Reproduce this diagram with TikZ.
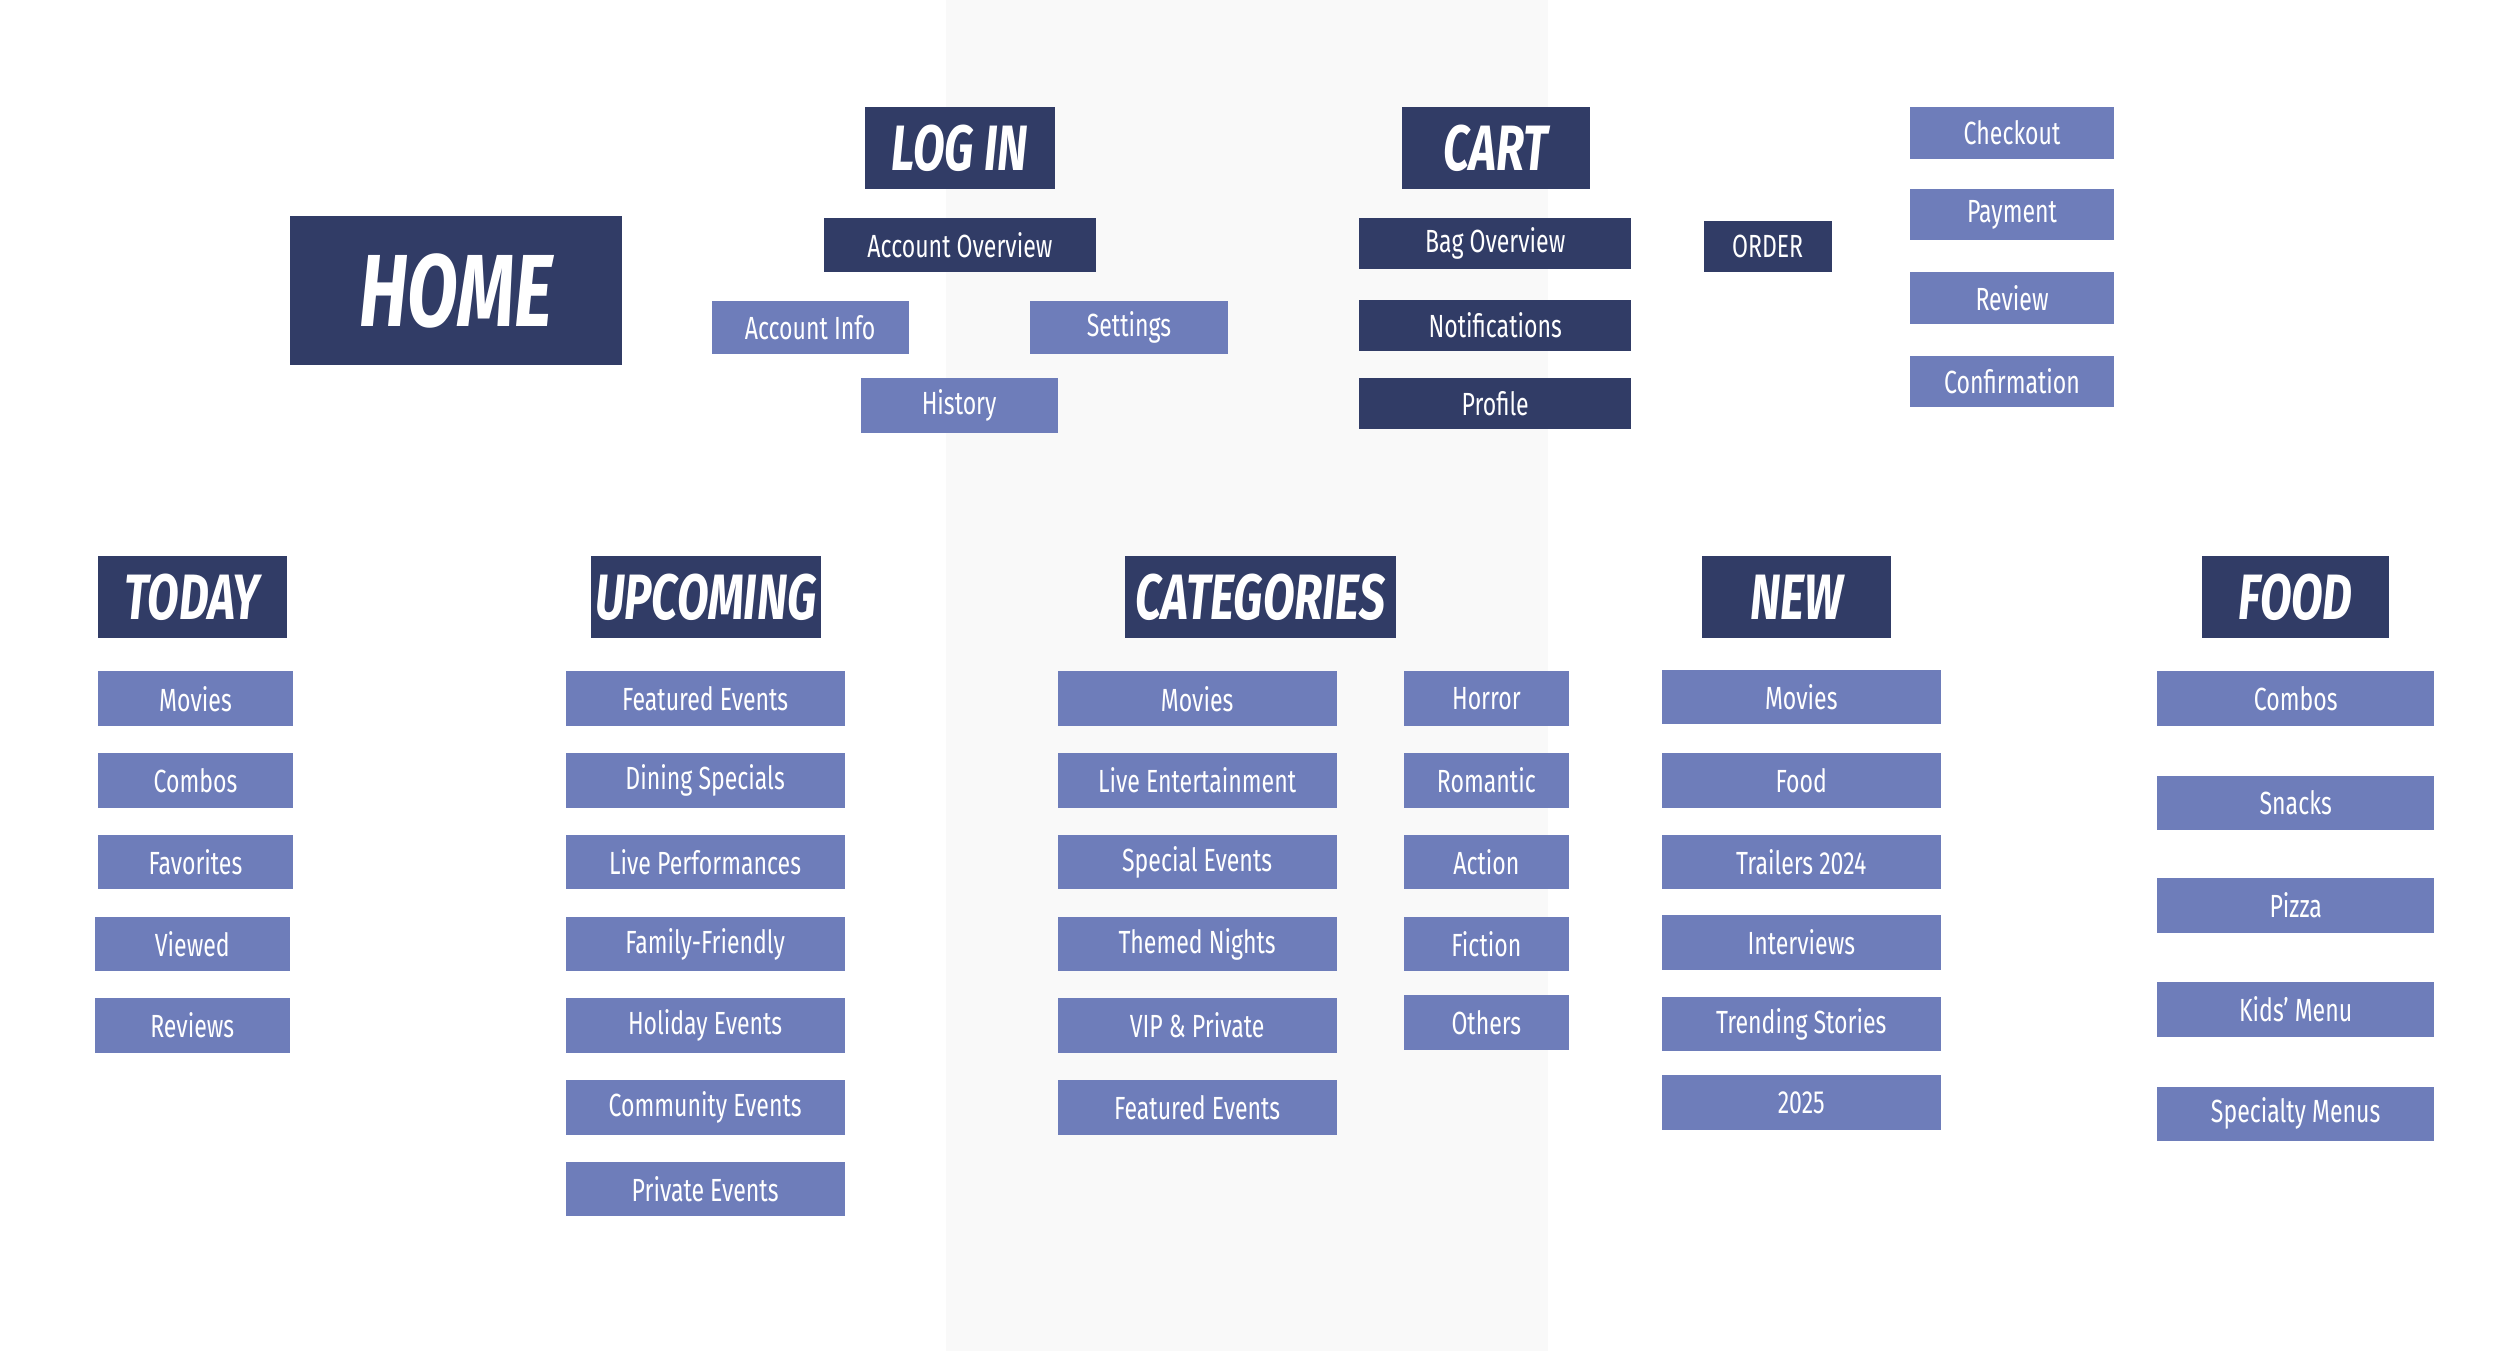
\documentclass[tikz,border=0pt]{standalone}
\usepackage{fontspec}
\setmainfont{Fira Sans}[FakeStretch=0.72]
\usetikzlibrary{backgrounds}
\definecolor{dk}{HTML}{313C66}
\definecolor{lt}{HTML}{6E7DBA}
\definecolor{ln}{HTML}{4B5478}
\tikzset{
 box/.style={draw=none,inner sep=0pt,text=white},
 dkb/.style={box,fill=dk,font=\fontsize{20}{20}\selectfont},
 ltb/.style={box,fill=lt,font=\fontsize{20}{20}\selectfont},
 head/.style={box,fill=dk,font=\fontsize{40}{40}\selectfont\bfseries\itshape},
 con/.style={draw=ln,line width=3pt}
}
\newcommand\bx[7]{\node[#2,minimum width={(#5-#3)*1pt},minimum height={(#6-#4)*1pt}] (#1) at ({(#3+#5)/2},{-(#4+#6)/2}) {#7};}
\begin{document}
\begin{tikzpicture}[x=1pt,y=1pt]
\useasboundingbox (0,0) rectangle (1560,-843);
\fill[white] (0,0) rectangle (1560,-843);
\fill[gray!5] (590,0) rectangle (966,-843);
% top
\bx{home}{head,font=\fontsize{64}{64}\selectfont\bfseries\itshape}{181}{135}{388}{228}{HOME}
\bx{login}{head}{540}{67}{658}{118}{LOG IN}
\bx{cart}{head}{875}{67}{992}{118}{CART}
\bx{ao}{dkb}{514}{136}{684}{170}{Account Overview}
\bx{ai}{ltb}{444}{188}{567}{221}{Account Info}
\bx{set}{ltb}{643}{188}{766}{221}{Settings}
\bx{hist}{ltb}{537}{236}{660}{270}{History}
\bx{bag}{dkb}{848}{136}{1018}{168}{Bag Overview}
\bx{notif}{dkb}{848}{187}{1018}{219}{Notifications}
\bx{prof}{dkb}{848}{236}{1018}{268}{Profile}
\bx{order}{dkb}{1063}{138}{1143}{170}{ORDER}
\bx{chk}{ltb}{1192}{67}{1319}{99}{Checkout}
\bx{pay}{ltb}{1192}{118}{1319}{150}{Payment}
\bx{rev}{ltb}{1192}{170}{1319}{202}{Review}
\bx{conf}{ltb}{1192}{222}{1319}{254}{Confirmation}
% row
\bx{today}{head}{61}{347}{179}{398}{TODAY}
\bx{upc}{head}{369}{347}{512}{398}{UPCOMING}
\bx{cat}{head}{702}{347}{871}{398}{CATEGORIES}
\bx{new}{head}{1062}{347}{1180}{398}{NEW}
\bx{food}{head}{1374}{347}{1491}{398}{FOOD}
% today
\bx{t1}{ltb}{61}{419}{183}{453}{Movies}
\bx{t2}{ltb}{61}{470}{183}{504}{Combos}
\bx{t3}{ltb}{61}{521}{183}{555}{Favorites}
\bx{t4}{ltb}{59}{572}{181}{606}{Viewed}
\bx{t5}{ltb}{59}{623}{181}{657}{Reviews}
% upcoming
\bx{u1}{ltb}{353}{419}{527}{453}{Featured Events}
\bx{u2}{ltb}{353}{470}{527}{504}{Dining Specials}
\bx{u3}{ltb}{353}{521}{527}{555}{Live Performances}
\bx{u4}{ltb}{353}{572}{527}{606}{Family-Friendly}
\bx{u5}{ltb}{353}{623}{527}{657}{Holiday Events}
\bx{u6}{ltb}{353}{674}{527}{708}{Community Events}
\bx{u7}{ltb}{353}{725}{527}{759}{Private Events}
% categories
\bx{c1}{ltb}{660}{419}{834}{453}{Movies}
\bx{c2}{ltb}{660}{470}{834}{504}{Live Entertainment}
\bx{c3}{ltb}{660}{521}{834}{555}{Special Events}
\bx{c4}{ltb}{660}{572}{834}{606}{Themed Nights}
\bx{c5}{ltb}{660}{623}{834}{657}{VIP \& Private}
\bx{c6}{ltb}{660}{674}{834}{708}{Featured Events}
\bx{g1}{ltb}{876}{419}{979}{453}{Horror}
\bx{g2}{ltb}{876}{470}{979}{504}{Romantic}
\bx{g3}{ltb}{876}{521}{979}{555}{Action}
\bx{g4}{ltb}{876}{572}{979}{606}{Fiction}
\bx{g5}{ltb}{876}{621}{979}{655}{Others}
% new
\bx{n1}{ltb}{1037}{418}{1211}{452}{Movies}
\bx{n2}{ltb}{1037}{470}{1211}{504}{Food}
\bx{n3}{ltb}{1037}{521}{1211}{555}{Trailers 2024}
\bx{n4}{ltb}{1037}{571}{1211}{605}{Interviews}
\bx{n5}{ltb}{1037}{622}{1211}{656}{Trending Stories}
\bx{n6}{ltb}{1037}{671}{1211}{705}{2025}
% food
\bx{f1}{ltb}{1346}{419}{1519}{453}{Combos}
\bx{f2}{ltb}{1346}{484}{1519}{518}{Snacks}
\bx{f3}{ltb}{1346}{548}{1519}{582}{Pizza}
\bx{f4}{ltb}{1346}{613}{1519}{647}{Kids' Menu}
\bx{f5}{ltb}{1346}{678}{1519}{712}{Specialty Menus}
\begin{pgfonlayer}{background}
\draw[con] (home.north) |- (login.west);
\draw[con] (login) -- (cart);
\draw[con] (login) -- (ao);
\draw[con] (ao.south) -- (ai.north);
\draw[con] (ao.south) -- (set.north);
\draw[con] (ao) -- (hist);
\draw[con] (cart) -- (notif);
\draw[con] (bag) -- (order);
\draw[con] (order.north) |- (chk.west);
\draw[con] (chk) -- (conf);
\draw[con] (home.west) -| (today.north);
\draw[con] (today) -- (food);
\draw[con] (today) -- (t1); \draw[con] (t1) -- (t5);
\draw[con] (upc) -- (u7);
\draw[con] (cat.south -| c1.north) -- (c6);
\draw[con] (c1) -- (g1); \draw[con] (g1) -- (g5);
\draw[con] (new) -- (n6);
\draw[con] (food) -- (f5);
\end{pgfonlayer}
\end{tikzpicture}
\end{document}
